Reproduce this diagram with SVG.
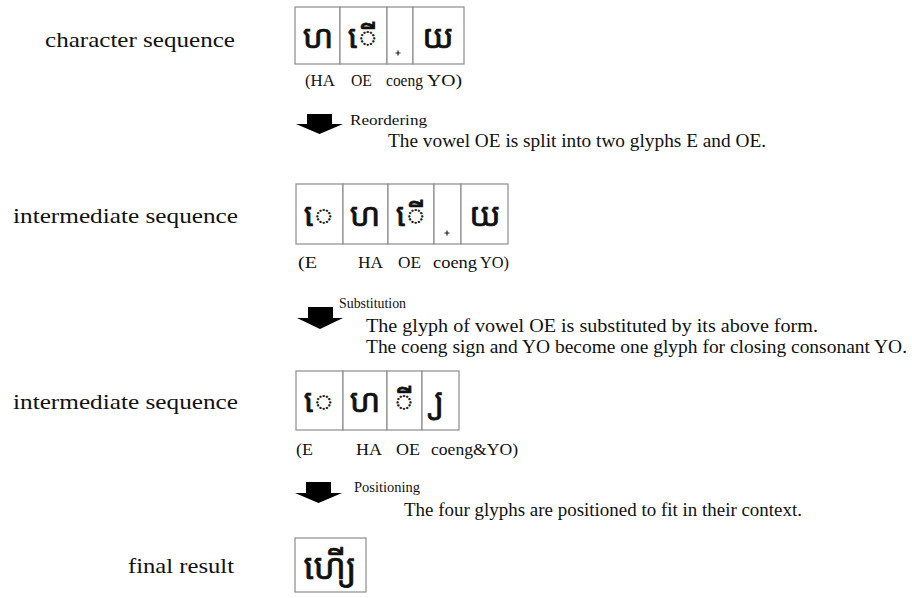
<svg xmlns="http://www.w3.org/2000/svg" width="912" height="598" viewBox="0 0 912 598">
  <style>
    .lbl { font-family: "Liberation Serif", serif; font-size: 22px; fill: #111; }
    .desc { font-family: "Liberation Serif", serif; font-size: 18px; fill: #111; }
    .step { font-family: "Liberation Serif", serif; font-size: 15px; fill: #111; }
    .cap { font-family: "Liberation Serif", serif; font-size: 17px; fill: #111; }
    .cell { fill: #fff; stroke: #8c8c8c; stroke-width: 1.2; }
    .km { font-family: "Noto Sans Khmer", "Noto Serif Khmer", "Khmer OS", sans-serif; font-size: 33px; fill: #111; stroke: #111; stroke-width: 0.7; }
    .plus { stroke: #222; stroke-width: 1.2; }
    .arrow { fill: #000; }
  </style>

  <!-- row labels on the left -->
  <g id="labels">
    <text class="lbl" x="45" y="47" textLength="190" lengthAdjust="spacingAndGlyphs">character sequence</text>
    <text class="lbl" x="13" y="223" textLength="225" lengthAdjust="spacingAndGlyphs">intermediate sequence</text>
    <text class="lbl" x="13" y="409" textLength="225" lengthAdjust="spacingAndGlyphs">intermediate sequence</text>
    <text class="lbl" x="128" y="573" textLength="106" lengthAdjust="spacingAndGlyphs">final result</text>
  </g>

  <!-- character sequence -->
  <g id="seq-characters">
    <rect class="cell" x="295" y="7" width="45" height="57"/>
    <rect class="cell" x="340" y="7" width="47" height="57"/>
    <rect class="cell" x="387" y="7" width="26" height="57"/>
    <rect class="cell" x="413" y="7" width="51" height="57"/>
    <text class="km" x="318" y="48" text-anchor="middle">ហ</text>
    <text class="km" x="363" y="48" text-anchor="middle">ើ</text>
    <path class="plus" d="M398 50.5v5M395.5 53h5"/>
    <text class="km" x="438" y="48" text-anchor="middle">យ</text>
    <text class="cap" x="305" y="86" textLength="30" lengthAdjust="spacingAndGlyphs">(HA</text>
    <text class="cap" x="351" y="86" textLength="21" lengthAdjust="spacingAndGlyphs">OE</text>
    <text class="cap" x="386" y="86" textLength="37" lengthAdjust="spacingAndGlyphs">coeng</text>
    <text class="cap" x="427" y="86" textLength="35" lengthAdjust="spacingAndGlyphs">YO)</text>
  </g>

  <!-- step: reordering -->
  <g id="step-reordering">
    <path class="arrow" d="M307 114h25v10h11l-23.5 10l-23.5-10h11z"/>
    <text class="step" x="350" y="125" textLength="77" lengthAdjust="spacingAndGlyphs">Reordering</text>
    <text class="desc" x="388" y="147" textLength="378" lengthAdjust="spacingAndGlyphs">The vowel OE is split into two glyphs E and OE.</text>
  </g>

  <!-- first intermediate sequence -->
  <g id="seq-intermediate-1">
    <rect class="cell" x="296" y="184" width="47" height="60"/>
    <rect class="cell" x="343" y="184" width="45" height="60"/>
    <rect class="cell" x="388" y="184" width="46" height="60"/>
    <rect class="cell" x="434" y="184" width="27" height="60"/>
    <rect class="cell" x="461" y="184" width="47" height="60"/>
    <text class="km" x="319" y="226" text-anchor="middle">េ</text>
    <text class="km" x="365" y="226" text-anchor="middle">ហ</text>
    <text class="km" x="411" y="226" text-anchor="middle">ើ</text>
    <path class="plus" d="M447 230.5v5M444.5 233h5"/>
    <text class="km" x="485" y="226" text-anchor="middle">យ</text>
    <text class="cap" x="298" y="268" textLength="19" lengthAdjust="spacingAndGlyphs">(E</text>
    <text class="cap" x="358" y="268" textLength="25" lengthAdjust="spacingAndGlyphs">HA</text>
    <text class="cap" x="398" y="268" textLength="23" lengthAdjust="spacingAndGlyphs">OE</text>
    <text class="cap" x="433" y="268" textLength="44" lengthAdjust="spacingAndGlyphs">coeng</text>
    <text class="cap" x="480" y="268" textLength="29" lengthAdjust="spacingAndGlyphs">YO)</text>
  </g>

  <!-- step: substitution -->
  <g id="step-substitution">
    <path class="arrow" d="M308 307h25v11h10l-23 11l-23-11h11z"/>
    <text class="step" x="339" y="308" textLength="67" lengthAdjust="spacingAndGlyphs">Substitution</text>
    <text class="desc" x="366" y="332" textLength="452" lengthAdjust="spacingAndGlyphs">The glyph of vowel OE is substituted by its above form.</text>
    <text class="desc" x="366" y="353" textLength="541" lengthAdjust="spacingAndGlyphs">The coeng sign and YO become one glyph for closing consonant YO.</text>
  </g>

  <!-- second intermediate sequence -->
  <g id="seq-intermediate-2">
    <rect class="cell" x="296" y="371" width="47" height="59"/>
    <rect class="cell" x="343" y="371" width="44" height="59"/>
    <rect class="cell" x="387" y="371" width="35" height="59"/>
    <rect class="cell" x="422" y="371" width="37" height="59"/>
    <text class="km" x="319" y="412" text-anchor="middle">េ</text>
    <text class="km" x="365" y="412" text-anchor="middle">ហ</text>
    <text class="km" x="404" y="412" text-anchor="middle">ី</text>
    <text class="km" x="435" y="412" text-anchor="middle">&#xA0;្យ</text>
    <text class="cap" x="296" y="455" textLength="17" lengthAdjust="spacingAndGlyphs">(E</text>
    <text class="cap" x="356" y="455" textLength="26" lengthAdjust="spacingAndGlyphs">HA</text>
    <text class="cap" x="396" y="455" textLength="24" lengthAdjust="spacingAndGlyphs">OE</text>
    <text class="cap" x="431" y="455" textLength="87" lengthAdjust="spacingAndGlyphs">coeng&amp;YO)</text>
  </g>

  <!-- step: positioning -->
  <g id="step-positioning">
    <path class="arrow" d="M306 482h25v11h11l-23.5 10l-23.5-10h11z"/>
    <text class="step" x="354" y="492" textLength="66" lengthAdjust="spacingAndGlyphs">Positioning</text>
    <text class="desc" x="404" y="516" textLength="398" lengthAdjust="spacingAndGlyphs">The four glyphs are positioned to fit in their context.</text>
  </g>

  <!-- final result -->
  <g id="seq-final">
    <rect class="cell" x="295" y="538" width="71" height="54"/>
    <text class="km" x="330" y="579" text-anchor="middle" style="font-size:35px">ហើ្យ</text>
  </g>
</svg>
